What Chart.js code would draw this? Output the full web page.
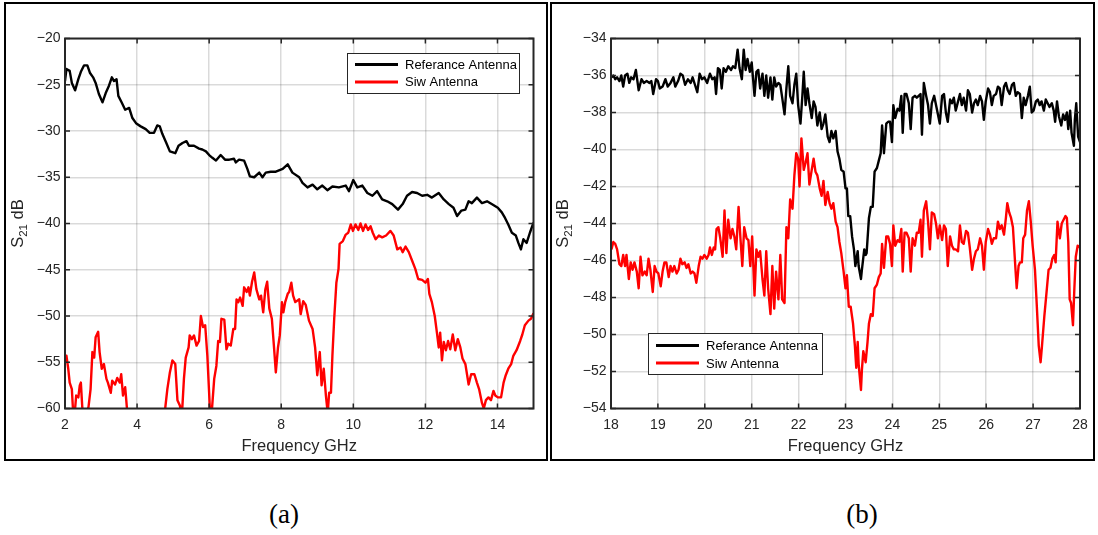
<!DOCTYPE html>
<html>
<head>
<meta charset="utf-8">
<script src="https://cdn.jsdelivr.net/npm/chart.js@4.4.1/dist/chart.umd.min.js"></script>
<style>
  html, body { margin: 0; padding: 0; background: #fff; }
  body { width: 1098px; height: 535px; position: relative; overflow: hidden; font-family: "Liberation Sans", Arial, sans-serif; }
  .wrap { position: absolute; top: 0; height: 465px; }
  #wa { left: 0; width: 550px; }
  #wb { left: 549px; width: 549px; }
  .frame { position: absolute; top: 2px; height: 459px; border: 2px solid #000; box-sizing: border-box; pointer-events: none; }
  .cap { position: absolute; top: 499px; width: 60px; text-align: center; font: 27px "Liberation Serif", "Times New Roman", serif; color: #000; }
</style>
</head>
<body>
<div class="wrap" id="wa"><canvas id="chartA" width="550" height="465"></canvas></div>
<div class="wrap" id="wb"><canvas id="chartB" width="549" height="465"></canvas></div>
<div class="frame" style="left:4px;width:544px"></div>
<div class="frame" style="left:550px;width:545px"></div>
<div class="cap" style="left:254px">(a)</div>
<div class="cap" style="left:832px">(b)</div>
<script>
// ---- panel (a): 2-15 GHz ----
const refAFreq = [2.00,2.04,2.13,2.19,2.28,2.37,2.44,2.53,2.62,2.69,2.78,2.85,2.94,3.04,3.13,3.22,3.30,3.36,3.43,3.48,
  3.57,3.67,3.78,3.87,3.98,4.10,4.24,4.35,4.47,4.56,4.63,4.70,4.80,4.91,5.06,5.15,5.26,5.37,5.44,5.58,
  5.72,5.81,5.91,6.00,6.09,6.19,6.32,6.44,6.56,6.69,6.74,6.83,6.97,7.06,7.13,7.25,7.39,7.48,7.57,7.71,
  7.85,8.04,8.18,8.31,8.50,8.59,8.73,8.87,9.00,9.14,9.28,9.42,9.60,9.79,9.88,10.00,10.11,10.25,10.39,10.53,
  10.66,10.80,10.94,11.08,11.24,11.37,11.49,11.63,11.77,11.91,12.05,12.18,12.37,12.51,12.65,12.78,12.88,13.00,13.11,13.20,
  13.29,13.43,13.57,13.71,13.84,14.01,14.12,14.21,14.30,14.40,14.51,14.58,14.65,14.72,14.81,14.90,15.00];
const refADb = [-24.6,-23.3,-23.5,-24.8,-25.6,-24.4,-23.6,-22.9,-22.9,-23.7,-24.2,-24.8,-26.0,-26.9,-25.9,-25.1,-24.2,-24.6,-24.4,-26.2,
  -26.9,-27.7,-27.5,-28.6,-29.2,-29.5,-29.8,-30.2,-30.2,-29.4,-29.5,-30.3,-31.2,-32.2,-32.4,-31.6,-31.3,-31.1,-31.6,-31.6,
  -31.9,-32.0,-32.2,-32.6,-32.9,-33.2,-32.6,-33.1,-33.1,-33.0,-33.4,-33.1,-33.2,-34.1,-34.9,-35.0,-34.5,-35.0,-34.5,-34.4,
  -34.4,-34.1,-33.6,-34.5,-35.0,-35.6,-36.1,-35.8,-36.3,-35.9,-36.4,-36.0,-36.1,-35.9,-36.5,-35.3,-36.1,-35.9,-36.7,-37.0,
  -36.5,-37.4,-37.6,-37.9,-38.5,-37.9,-37.0,-36.6,-36.7,-37.0,-36.9,-37.2,-36.7,-37.4,-37.9,-38.3,-39.2,-38.6,-38.5,-37.6,
  -37.8,-37.2,-37.8,-37.6,-37.9,-38.3,-38.8,-39.4,-40.1,-41.0,-41.3,-42.1,-42.8,-41.7,-42.1,-41.0,-39.9];

const siwAFreq = [2.00,2.04,2.09,2.13,2.19,2.22,2.26,2.31,2.37,2.41,2.44,2.48,2.53,2.59,2.65,2.71,2.76,2.81,2.85,2.92,
  2.96,3.02,3.08,3.15,3.19,3.27,3.31,3.39,3.45,3.52,3.56,3.61,3.67,3.70,3.74,4.00,4.40,4.78,4.84,4.91,
  4.98,5.06,5.12,5.19,5.24,5.30,5.35,5.43,5.46,5.52,5.58,5.65,5.72,5.77,5.83,5.89,5.95,6.02,6.07,6.14,
  6.20,6.25,6.30,6.34,6.42,6.48,6.53,6.60,6.67,6.72,6.76,6.81,6.86,6.93,6.97,7.04,7.09,7.13,7.19,7.25,
  7.31,7.39,7.44,7.50,7.56,7.61,7.67,7.74,7.80,7.85,7.91,7.96,8.02,8.06,8.11,8.18,8.22,8.28,8.33,8.39,
  8.50,8.54,8.61,8.68,8.77,8.87,8.94,9.00,9.07,9.12,9.18,9.24,9.29,9.33,9.38,9.42,9.47,9.53,9.59,9.62,
  9.71,9.79,9.86,9.93,9.99,10.06,10.14,10.20,10.27,10.34,10.41,10.48,10.54,10.62,10.71,10.80,10.91,11.03,11.12,11.22,
  11.31,11.37,11.45,11.54,11.63,11.72,11.80,11.91,12.00,12.07,12.11,12.18,12.26,12.32,12.37,12.41,12.46,12.51,12.57,12.63,
  12.69,12.76,12.83,12.90,12.97,13.03,13.11,13.20,13.27,13.36,13.43,13.49,13.57,13.62,13.68,13.75,13.82,13.89,13.94,14.01,
  14.10,14.17,14.23,14.30,14.38,14.44,14.53,14.63,14.69,14.76,14.86,14.93,15.00];
const siwADb = [-55.0,-54.3,-55.7,-57.2,-57.9,-60.0,-61,-58.6,-58.8,-57.5,-57.2,-59.9,-61,-61,-59.9,-57.9,-53.9,-54.5,-52.3,-51.7,
  -53.9,-55.7,-55.2,-56.8,-57.2,-58.3,-57.0,-57.4,-56.7,-57.2,-56.3,-58.6,-57.7,-59.1,-61,-64,-64,-60,-57.9,-56.1,
  -54.8,-55.2,-59.1,-59.7,-61,-56.8,-54.5,-53.4,-52.1,-52.5,-52.1,-53.2,-52.7,-50.0,-51.2,-51.0,-54.3,-60.0,-60.5,-56.8,
  -55.4,-52.7,-52.8,-50.3,-50.4,-53.6,-53.0,-53.2,-51.4,-51.4,-48.2,-48.5,-48.0,-48.9,-46.9,-47.4,-46.9,-47.8,-46.3,-45.3,
  -47.1,-48.2,-47.8,-49.6,-47.1,-46.3,-49.2,-50.3,-53.4,-56.1,-53.4,-52.1,-48.5,-49.6,-48.5,-47.6,-47.4,-46.4,-47.8,-48.5,
  -48.2,-49.8,-48.4,-48.8,-50.5,-51.4,-53.4,-56.4,-53.9,-57.5,-55.7,-58.6,-60.5,-58.3,-58.3,-54.3,-50.3,-46.4,-44.9,-42.2,
  -41.9,-41.2,-41.0,-40.1,-40.8,-40.1,-40.7,-40.0,-40.8,-40.1,-40.7,-40.3,-41.0,-41.7,-41.3,-41.5,-41.3,-40.8,-41.3,-42.8,
  -42.6,-43.1,-42.5,-43.1,-44.0,-44.9,-46.0,-46.1,-46.4,-46.0,-47.6,-48.5,-50.0,-51.8,-53.4,-51.8,-54.8,-52.8,-53.7,-52.7,
  -53.6,-52.0,-53.7,-52.5,-53.4,-54.6,-55.2,-57.4,-56.3,-56.3,-57.2,-57.9,-59.4,-60.0,-59.1,-58.8,-59.1,-58.1,-58.6,-58.8,
  -58.8,-57.2,-56.4,-55.7,-55.2,-54.3,-53.7,-52.7,-52.0,-51.0,-50.5,-50.3,-49.7];

// ---- panel (b): 18-28 GHz ----
const refBFreq = [18.01,18.05,18.09,18.13,18.18,18.22,18.26,18.30,18.35,18.39,18.43,18.48,18.53,18.59,18.65,18.70,18.76,18.82,18.86,18.90,
  18.96,19.00,19.04,19.10,19.16,19.21,19.27,19.33,19.37,19.43,19.48,19.53,19.58,19.64,19.70,19.74,19.79,19.84,19.89,19.94,
  19.99,20.05,20.11,20.16,20.21,20.24,20.28,20.32,20.36,20.40,20.45,20.50,20.56,20.60,20.65,20.70,20.74,20.79,20.83,20.87,
  20.91,20.96,21.00,21.06,21.10,21.14,21.18,21.23,21.27,21.31,21.35,21.40,21.44,21.48,21.52,21.57,21.61,21.65,21.70,21.74,
  21.78,21.82,21.87,21.91,21.95,21.99,22.04,22.08,22.11,22.15,22.19,22.23,22.28,22.32,22.36,22.40,22.45,22.49,22.53,22.57,
  22.62,22.66,22.70,22.74,22.79,22.83,22.87,22.91,22.96,23.00,
  23.03,23.06,23.10,23.14,23.18,23.21,23.26,23.28,23.33,23.35,23.40,23.43,23.45,23.50,23.54,23.58,23.62,23.67,23.71,23.75,
  23.78,23.82,23.87,23.91,23.95,23.99,24.02,24.06,24.11,24.15,24.19,24.22,24.26,24.30,24.35,24.39,24.43,24.48,24.52,24.56,
  24.60,24.63,24.67,24.72,24.76,24.80,24.84,24.89,24.93,24.97,25.01,25.06,25.10,25.14,25.18,25.23,25.27,25.31,25.35,25.40,
  25.44,25.48,25.52,25.57,25.61,25.65,25.70,25.74,25.78,25.82,25.87,25.91,25.95,25.99,26.04,26.08,26.12,26.16,26.21,26.25,
  26.29,26.33,26.38,26.42,26.46,26.50,26.55,26.59,26.63,26.67,26.72,26.76,26.80,26.84,26.89,26.93,26.97,27.01,27.06,27.10,
  27.14,27.18,27.23,27.27,27.31,27.35,27.40,27.44,27.47,27.51,27.55,27.60,27.64,27.68,27.72,27.75,27.79,27.82,27.87,27.89,
  27.92,27.96,28.00];
const refBDb = [-36.1,-36.0,-36.2,-36.1,-36.3,-36.0,-36.6,-36.0,-35.9,-36.4,-36.1,-36.2,-35.7,-36.8,-36.2,-36.4,-36.3,-36.4,-36.3,-37.0,
  -36.2,-36.3,-36.7,-36.6,-36.2,-36.6,-36.4,-36.1,-36.6,-36.3,-35.9,-36.0,-36.5,-36.2,-36.4,-36.1,-36.5,-36.9,-35.9,-36.2,
  -36.1,-36.4,-35.9,-36.2,-36.1,-37.0,-35.6,-35.7,-36.7,-35.6,-35.8,-35.5,-35.7,-35.5,-35.6,-34.6,-35.6,-36.2,-34.6,-35.7,
  -35.1,-35.8,-35.3,-37.1,-35.8,-35.7,-36.7,-35.9,-37.1,-36.0,-37.2,-36.1,-37.3,-36.1,-36.6,-36.4,-36.5,-37.2,-38.1,-36.7,
  -35.5,-37.1,-37.5,-36.5,-35.9,-37.6,-38.6,-37.1,-35.8,-37.6,-36.7,-37.5,-38.3,-37.4,-37.7,-38.7,-38.0,-38.9,-38.6,-38.1,
  -39.3,-39.6,-39.0,-39.4,-39.0,-40.1,-40.5,-41.1,-41.2,-42.1,
  -42.1,-43.6,-43.6,-44.7,-45.4,-46.3,-45.5,-46.3,-47.0,-46.5,-45.4,-45.7,-45.6,-43.7,-43.1,-43.1,-41.2,-41.0,-40.6,-40.2,
  -38.7,-40.2,-38.6,-38.5,-38.5,-39.6,-37.6,-38.3,-37.8,-37.9,-37.1,-39.1,-37.0,-37.0,-37.5,-38.9,-37.2,-37.1,-37.2,-37.1,
  -37.0,-39.2,-36.4,-37.1,-37.6,-38.6,-37.5,-37.1,-37.6,-38.1,-38.6,-37.1,-37.0,-38.0,-38.5,-37.3,-37.5,-37.2,-37.9,-37.4,
  -37.0,-37.6,-37.2,-37.9,-36.8,-37.0,-38.0,-37.5,-37.3,-37.6,-37.1,-37.4,-38.4,-37.4,-36.7,-36.9,-37.6,-37.1,-37.0,-36.6,
  -36.7,-37.6,-36.6,-36.4,-36.8,-37.0,-36.5,-36.4,-37.1,-36.9,-37.0,-38.3,-37.2,-37.6,-37.1,-36.6,-38.0,-37.9,-37.4,-37.3,
  -37.6,-37.4,-37.9,-37.3,-37.5,-37.7,-37.5,-37.9,-38.5,-37.4,-38.2,-38.7,-38.1,-38.4,-38.0,-38.9,-37.9,-39.1,-39.8,-38.4,
  -37.5,-39.3,-39.6];

const siwBFreq = [18.01,18.05,18.09,18.13,18.18,18.22,18.26,18.30,18.33,18.38,18.42,18.46,18.50,18.55,18.59,18.63,18.67,18.72,18.76,18.80,
  18.84,18.89,18.93,18.97,19.01,19.06,19.10,19.14,19.18,19.23,19.27,19.31,19.35,19.40,19.44,19.48,19.52,19.57,19.61,19.65,
  19.70,19.74,19.78,19.82,19.87,19.91,19.95,19.99,20.04,20.08,20.11,20.15,20.19,20.22,20.25,20.29,20.33,20.38,20.42,20.46,
  20.50,20.55,20.59,20.63,20.67,20.72,20.76,20.80,20.84,20.89,20.93,20.97,21.01,21.06,21.10,21.14,21.18,21.23,21.27,21.31,
  21.35,21.40,21.44,21.48,21.52,21.57,21.61,21.65,21.70,21.74,21.78,21.82,21.87,21.91,21.95,21.99,22.02,22.06,22.11,22.15,
  22.19,22.23,22.28,22.32,22.36,22.40,22.45,22.49,22.53,22.57,22.62,22.66,22.70,22.74,22.79,22.83,22.87,22.91,22.96,23.00,
  23.03,23.07,23.11,23.16,23.20,23.23,23.26,23.28,23.33,23.35,23.38,23.43,23.47,23.50,23.54,23.58,23.62,23.67,23.71,23.75,
  23.78,23.82,23.87,23.91,23.95,23.99,24.02,24.06,24.11,24.15,24.19,24.22,24.26,24.30,24.35,24.39,24.43,24.48,24.52,24.56,
  24.60,24.63,24.67,24.72,24.76,24.80,24.84,24.89,24.93,24.97,25.01,25.06,25.10,25.14,25.18,25.23,25.27,25.31,25.35,25.40,
  25.44,25.48,25.52,25.57,25.61,25.65,25.70,25.74,25.78,25.82,25.87,25.91,25.95,25.99,26.04,26.08,26.12,26.16,26.21,26.25,
  26.29,26.33,26.38,26.42,26.45,26.49,26.53,26.57,26.62,26.65,26.69,26.72,26.76,26.79,26.83,26.87,26.91,26.95,26.99,27.04,
  27.08,27.12,27.16,27.19,27.24,27.28,27.33,27.37,27.41,27.45,27.48,27.52,27.57,27.61,27.65,27.69,27.72,27.75,27.78,27.81,
  27.85,27.88,27.91,27.95,28.00];
const siwBDb = [-45.4,-45.0,-45.1,-45.4,-46.2,-46.3,-45.7,-46.3,-45.7,-47.0,-46.1,-46.5,-46.1,-46.6,-47.5,-45.8,-46.8,-46.6,-46.8,-45.9,
  -46.5,-47.7,-46.3,-46.6,-46.7,-47.4,-46.6,-46.1,-46.1,-46.9,-46.3,-46.6,-46.3,-46.7,-46.5,-45.9,-46.2,-46.1,-46.4,-46.2,
  -46.7,-46.6,-46.7,-47.2,-46.3,-45.8,-45.9,-45.7,-45.9,-45.7,-45.3,-45.7,-45.3,-45.4,-44.3,-44.2,-44.8,-45.8,-43.3,-45.6,
  -43.8,-44.8,-44.3,-44.7,-45.4,-43.1,-44.8,-46.3,-44.2,-44.8,-44.9,-46.3,-44.7,-47.9,-45.4,-45.8,-45.5,-47.0,-47.9,-45.5,
  -47.5,-48.9,-46.3,-48.6,-46.6,-48.1,-45.7,-48.1,-48.3,-44.2,-44.8,-42.7,-43.2,-41.4,-40.2,-40.5,-42.0,-39.4,-41.1,-40.7,
  -40.2,-41.9,-41.1,-40.5,-41.2,-41.4,-42.1,-42.5,-41.7,-43.0,-42.3,-42.9,-43.2,-42.9,-43.9,-44.2,-45.0,-45.6,-46.6,-47.5,
  -46.8,-48.5,-48.5,-49.4,-50.6,-51.8,-50.4,-51.6,-53.0,-51.9,-50.9,-51.5,-50.4,-49.4,-48.9,-49.0,-47.5,-47.3,-46.9,-46.7,
  -45.1,-46.4,-44.7,-44.7,-45.1,-46.3,-44.1,-45.2,-44.9,-45.0,-44.3,-46.6,-44.5,-44.5,-44.8,-46.6,-44.8,-45.2,-44.5,-44.5,
  -43.8,-45.8,-43.3,-42.8,-43.9,-45.4,-43.4,-43.5,-44.0,-44.8,-44.1,-44.9,-44.1,-44.3,-46.3,-44.7,-45.2,-45.4,-45.4,-45.5,
  -44.1,-45.0,-45.1,-44.4,-44.5,-45.3,-46.5,-45.9,-45.5,-45.4,-44.8,-45.2,-46.5,-45.0,-44.3,-44.6,-45.1,-44.8,-44.8,-43.9,
  -44.3,-44.1,-44.6,-43.7,-42.9,-43.4,-43.7,-44.2,-46.3,-47.5,-46.3,-46.1,-46.1,-44.8,-44.6,-43.3,-42.8,-43.9,-45.2,-46.5,
  -48.5,-50.6,-51.5,-50.6,-49.0,-47.9,-46.5,-46.4,-45.9,-45.7,-46.1,-43.9,-44.8,-44.0,-43.8,-43.6,-43.7,-45.0,-48.1,-48.3,
  -49.5,-47.5,-45.8,-45.2,-45.3];

const seriesLabels = ['Referance Antenna', 'Siw Antenna'];
const seriesColors = ['#000000', '#ff0000'];

let pts = (xs, ys) => {
  let out = [];
  for (let i = 0; i < Math.min(xs.length, ys.length); i++) {
    out.push({x: xs[i], y: ys[i]});
  }
  return out;
};

const FONT = '"Liberation Sans", Arial, Helvetica, sans-serif';
const INK = '#262626';

// matlab style box, inward ticks, rotated S21 label and boxed legend
const matlabAxes = {
  id: 'matlabAxes',
  afterDatasetsDraw(chart, args, opts) {
    const {ctx, chartArea: a, scales: {x, y}} = chart;
    ctx.save();
    ctx.strokeStyle = INK;
    ctx.lineWidth = 1.5;
    ctx.beginPath();
    x.ticks.forEach(t => {
      let px = x.getPixelForValue(t.value);
      ctx.moveTo(px, a.bottom); ctx.lineTo(px, a.bottom - 5);
      ctx.moveTo(px, a.top); ctx.lineTo(px, a.top + 5);
    });
    y.ticks.forEach(t => {
      let py = y.getPixelForValue(t.value);
      ctx.moveTo(a.left, py); ctx.lineTo(a.left + 5, py);
      ctx.moveTo(a.right, py); ctx.lineTo(a.right - 5, py);
    });
    ctx.stroke();
    ctx.lineWidth = 2;
    ctx.strokeRect(a.left, a.top, a.right - a.left, a.bottom - a.top);

    // y label: S with subscript 21, then dB
    ctx.fillStyle = INK;
    ctx.textBaseline = 'alphabetic';
    ctx.translate(opts.labelX, (a.top + a.bottom) / 2);
    ctx.rotate(-Math.PI / 2);
    let big = '16.5px ' + FONT, small = '11.5px ' + FONT;
    ctx.font = big; let wS = ctx.measureText('S').width, wD = ctx.measureText(' dB').width;
    ctx.font = small; let w2 = ctx.measureText('21').width;
    let sx = -(wS + w2 + wD) / 2;
    ctx.font = big; ctx.fillText('S', sx, 0);
    ctx.font = small; ctx.fillText('21', sx + wS, 4);
    ctx.font = big; ctx.fillText(' dB', sx + wS + w2, 0);
    ctx.setTransform(1, 0, 0, 1, 0, 0);

    // legend
    let L = opts.legend;
    ctx.fillStyle = '#fff';
    ctx.fillRect(L.x, L.y, L.w, L.h);
    ctx.lineWidth = 1;
    ctx.strokeStyle = INK;
    ctx.strokeRect(L.x + 0.5, L.y + 0.5, L.w, L.h);
    ctx.font = '13px ' + FONT;
    ctx.textBaseline = 'middle';
    chart.data.datasets.forEach((ds, i) => {
      let ry = L.y + L.row0 + i * L.gap;
      ctx.strokeStyle = ds.borderColor;
      ctx.lineWidth = 3;
      ctx.beginPath();
      ctx.moveTo(L.x + 8, ry); ctx.lineTo(L.x + 51, ry);
      ctx.stroke();
      ctx.fillStyle = '#000';
      ctx.fillText(ds.label, L.x + 58, ry + 1);
    });
    ctx.restore();
  }
};

let minusFmt = v => v < 0 ? '\u2212' + (-v) : String(v);

let makePanel = function (canvas, refX, refY, siwX, siwY, ax, lay) {
  return new Chart(canvas.getContext('2d'), {
    type: 'line',
    data: {
      datasets: [{
        label: seriesLabels[0],
        data: pts(refX, refY),
        borderColor: seriesColors[0],
        borderWidth: 2.4,
        order: 1
      }, {
        label: seriesLabels[1],
        data: pts(siwX, siwY),
        borderColor: seriesColors[1],
        borderWidth: 2.4,
        order: 0
      }]
    },
    options: {
      responsive: false,
      animation: false,
      events: [],
      elements: { point: { radius: 0 }, line: { tension: 0, borderJoinStyle: 'round' } },
      datasets: { line: { clip: 0 } },
      layout: { padding: lay.padding },
      plugins: {
        legend: { display: false },
        tooltip: { enabled: false },
        matlabAxes: { labelX: lay.labelX, legend: lay.legend }
      },
      scales: {
        x: {
          type: 'linear',
          min: ax.xMin, max: ax.xMax,
          afterFit: s => { s.height = 48; },
          grid: { color: 'rgba(38,38,38,0.17)', lineWidth: 1.5, drawTicks: false },
          border: { display: false },
          ticks: { stepSize: ax.xStep, includeBounds: false, padding: 8.5, color: INK, font: { family: FONT, size: 14 }, maxRotation: 0 },
          title: { display: true, text: 'Frequency GHz', color: INK, padding: 0, font: { family: FONT, size: 16.5 } }
        },
        y: {
          type: 'linear',
          min: ax.yMin, max: ax.yMax,
          afterFit: s => { s.width = 50; },
          grid: { color: 'rgba(38,38,38,0.17)', lineWidth: 1.5, drawTicks: false },
          border: { display: false },
          ticks: { stepSize: ax.yStep, padding: 4.5, color: INK, font: { family: FONT, size: 14 }, callback: minusFmt }
        }
      }
    },
    plugins: [matlabAxes]
  });
};

const chartA = makePanel(document.getElementById('chartA'), refAFreq, refADb, siwAFreq, siwADb,
  { xMin: 2, xMax: 15, xStep: 2, yMin: -60, yMax: -20, yStep: 5 },
  { padding: { left: 15, right: 16.5, top: 38.5, bottom: 8.5 }, labelX: 23,
    legend: { x: 347, y: 53, w: 172, h: 40, row0: 11.5, gap: 17.4 } });

const chartB = makePanel(document.getElementById('chartB'), refBFreq, refBDb, siwBFreq, siwBDb,
  { xMin: 18, xMax: 28, xStep: 1, yMin: -54, yMax: -34, yStep: 2 },
  { padding: { left: 12, right: 18, top: 38.5, bottom: 8.5 }, labelX: 19,
    legend: { x: 99, y: 333, w: 174, h: 41, row0: 12.5, gap: 17.6 } });
</script>
</body>
</html>
